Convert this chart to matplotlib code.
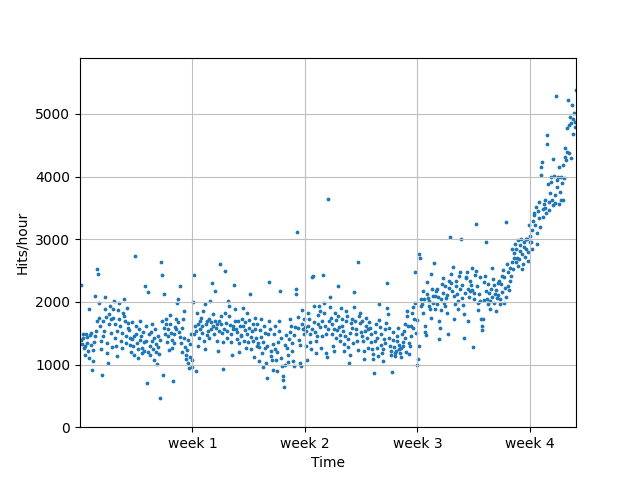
import matplotlib
matplotlib.use("Agg")
import matplotlib.pyplot as plt
import numpy as np

# Hits per hour, one list per day (24 hourly readings)
d0 = [2270,1390,1330,1480,1420,1260,1150,1290,1480,1350,1440,1220,1100,1880,1470,1320,1500,920,1230,1060,1360,1450,2100,1530]
d1 = [1700,2530,2440,1750,1980,1620,1380,1250,830,1460,1700,1540,1890,2080,1760,1350,1190,1020,1640,1800,1930,1500,1720,1280]
d2 = [1750,1880,2020,1650,1420,1300,1130,1540,1870,1990,1720,1610,1380,1260,1500,1820,2050,1780,1690,1350,1450,1900,1670,1580]
d3 = [1550,1420,1320,1200,1680,1400,1290,1150,1460,2740,1620,1480,1340,1250,1110,1570,1390,1700,1450,1180,1260,1520,1360,1210]
d4 = [2250,1620,1380,710,1200,2160,1480,1300,1150,1520,1640,1370,1250,1080,1420,1560,1330,1200,1010,1460,1280,1170,460,1390]
d5 = [2640,1700,2430,830,1590,2130,1480,1650,1720,1360,1560,1450,1230,1640,1790,1500,1390,1270,740,1340,1480,1600,1720,1560]
d6 = [1980,2040,1680,1520,2260,1440,1350,1200,1590,1720,1860,1430,1280,1150,1090,1230,1390,1020,950,1120,1330,1480,1080,960]
d7 = [2000,2430,1480,1620,1540,900,1830,1650,1300,1420,1560,1700,1750,1610,1500,1850,1380,1250,1960,1640,1470,1690,1530,1420]
d8 = [1720,2020,1680,1560,2300,1800,1620,1480,2180,1700,1590,1640,1380,1210,1530,1690,2610,1770,1650,1500,1360,930,1570,1820]
d9 = [2500,1670,1540,1420,2010,1940,1780,1630,1490,1360,1160,1620,1570,2270,1880,1700,1560,1410,1520,1690,1350,1200,1610,1470]
d10 = [1460,1730,1620,1900,1380,1550,1680,1270,1820,1490,1360,1590,1710,2120,1440,1250,1530,1650,1380,1120,1740,1570,1430,1290]
d11 = [1640,1350,1280,1060,1550,1440,1730,1180,960,1360,1620,1500,1270,1020,780,1300,1480,1700,2320,1560,1130,1210,1080,920]
d12 = [1330,1480,1620,1250,1080,1200,890,1360,1540,1690,2180,1420,1110,980,820,760,640,1000,1310,1470,1270,1150,1040,1400]
d13 = [1520,1730,1610,1340,1220,1050,980,1470,1600,2130,2200,3110,1760,1590,1390,1310,1020,970,1650,1870,1560,1730,1480,1600]
d14 = [1540,1290,1080,1620,1830,1720,1480,1360,1250,1570,2400,2420,1940,1680,1520,1380,1190,1450,1640,1790,1930,1850,1600,1260]
d15 = [1450,1700,2430,1980,1820,1610,1490,1180,1120,3650,1570,1700,1920,2080,1750,1640,1490,1300,1210,1560,1830,1710,1420,1550]
d16 = [1780,2260,1600,1470,1380,1900,1730,1620,1540,1210,1330,1460,1690,1850,1770,1400,1280,1030,1150,1500,1660,1580,1720,1340]
d17 = [2160,1920,1700,1560,1480,1380,1240,2630,1770,1830,1660,1520,1690,1450,1370,1210,1090,1540,1610,1740,1430,1270,1560,1680]
d18 = [1580,1480,1360,1250,1170,1090,870,1380,1520,1650,1430,1260,1140,1710,1960,1600,1490,1320,1180,1050,1250,1410,1560,1340]
d19 = [1660,1900,2300,1810,1590,1420,1290,1160,1220,880,1390,1520,1280,1180,1130,1210,1380,1460,1580,1310,1250,1190,1120,1270]
d20 = [1480,1360,1290,1540,1650,1420,1200,1780,1860,1610,1350,1170,1290,1460,1620,1820,1920,1580,1730,1990,2480,1500,990,1710]
d21 = [1090,1300,2770,2700,1930,2040,1970,1820,2180,2040,1620,1520,1470,2130,2310,2060,1940,2020,1880,1750,2440,2200,1980,2090]
d22 = [2620,2090,1890,2180,1960,2210,2080,1700,1410,1580,1870,2040,2290,2380,2150,1990,2250,1930,2070,2110,1830,1480,2230,2330]
d23 = [3040,2450,2300,2180,2560,2090,1730,1960,2260,2340,2120,2010,1890,2410,2480,2200,3000,2270,2070,1950,1430,1810,2150,2380]
d24 = [2390,2470,2210,1700,2080,2180,2330,2270,2540,2190,1280,2050,2140,2430,3250,2500,2260,1980,1870,2130,2390,2020,1720,1550]
d25 = [1610,1720,2030,2310,2420,2180,2960,2050,1970,2290,2140,1890,2010,2210,2080,2540,2360,1980,2270,2120,1850,2190,2060,2300]
d26 = [2110,2340,1960,2050,2280,2160,2420,2510,2390,1990,2230,3270,2080,2600,2470,2260,2190,2540,2330,2410,2850,2630,2520,2700]
d27 = [2780,2920,2640,2850,2700,2990,2570,2680,2910,2820,3000,2760,2530,2610,2880,2950,2720,3010,2840,3000,2650,2790,3220,2960]
d28 = [3060,2960,3150,2850,3290,3420,3380,3220,3510,3100,2920,3450,3340,3590,3190,4030,4160,4240,3480,3360,3560,3630,3500,3420]
d29 = [4660,4520,3880,3600,3460,3740,4000,3920,3620,3540,4280,4010,3580,3700,5280,3950,3830,4000,3560,4150,3760,3620,4000,3900]
d30 = [3620,4180,3980,4450,4320,4260,4780,4400,5230,4830,4370,4950,4300,4850,5150,4680,4920,5010,4790,4870,5380]

days = [d0, d1, d2, d3, d4, d5, d6, d7, d8, d9, d10, d11, d12, d13, d14, d15,
        d16, d17, d18, d19, d20, d21, d22, d23, d24, d25, d26, d27, d28, d29, d30]
hits = np.concatenate([np.array(d, dtype=float) for d in days])
hours = np.arange(1, len(hits) + 1)

week_ticks = [w * 7 * 24 for w in range(1, 5)]
week_labels = ['week %i' % w for w in range(1, 5)]

fig = plt.figure(figsize=(6.4, 4.8), dpi=100)
ax = plt.gca()
ax.scatter(hours, hits, s=3)
ax.set_xlabel("Time")
ax.set_ylabel("Hits/hour")
ax.set_xticks(week_ticks)
ax.set_xticklabels(week_labels)
ax.set_xlim(0, len(hits))
ax.set_ylim(0, 5900)
ax.grid(True, linestyle='-', color='0.75')
fig.savefig("out.png", dpi=100)
